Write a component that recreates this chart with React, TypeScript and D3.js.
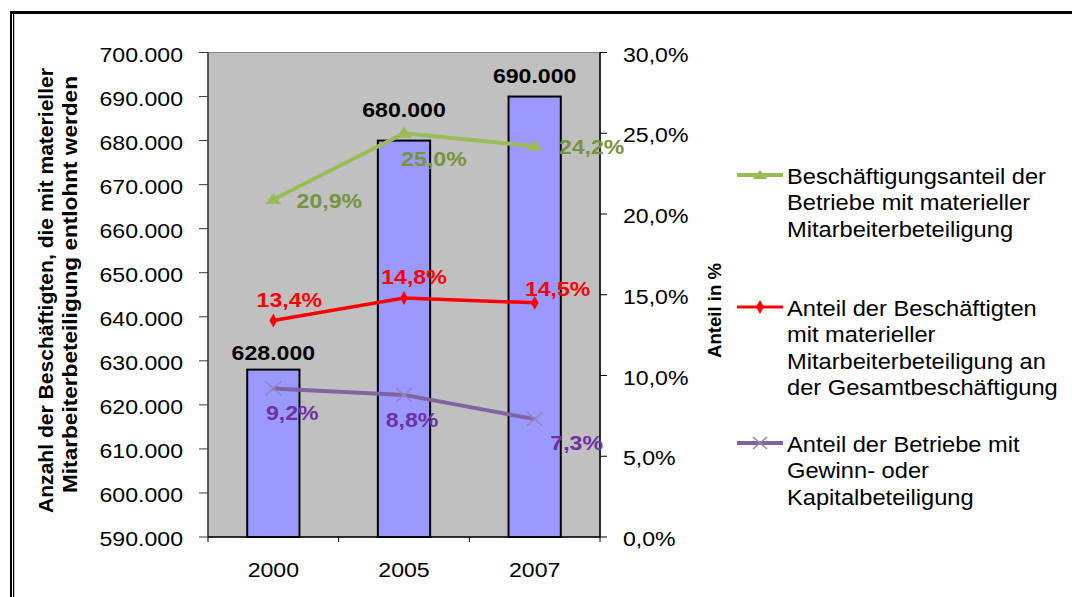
import React from "react";
import * as d3 from "d3";

// ---- data ----
const years = ["2000", "2005", "2007"];
const employees = [628000, 680000, 690000];
const shareEmploymentFirms = [20.9, 25.0, 24.2];
const shareEmployees = [13.4, 14.8, 14.5];
const shareFirmsProfit = [9.2, 8.8, 7.3];
const leftTicks = [590000, 600000, 610000, 620000, 630000, 640000, 650000, 660000, 670000, 680000, 690000, 700000];
const rightTicks = [0, 5, 10, 15, 20, 25, 30];

const legendGreen = ["Beschäftigungsanteil  der", "Betriebe mit materieller", "Mitarbeiterbeteiligung"];
const legendRed = ["Anteil der Beschäftigten", "mit materieller", "Mitarbeiterbeteiligung an", "der Gesamtbeschäftigung"];
const legendPurple = ["Anteil der Betriebe mit", "Gewinn- oder", "Kapitalbeteiligung"];
const leftTitle = ["Anzahl der Beschäftigten, die mit materieller", "Mitarbeiterbeteiligung entlohnt werden"];
const rightTitle = "Anteil in %";

// label placement (offsets from the data point, px)
const barLabelDy = [-10, -24, -14];
const greenLabelOff = [[56, 9], [30, 33], [57, 8]];
const redLabelOff = [[16, -14], [10, -14], [23, -7]];
const purpleLabelOff = [[19, 32], [8, 32], [42, 31]];

const de = d3.formatLocale({ decimal: ",", thousands: ".", grouping: [3], currency: ["", "€"] });
const fmtInt = de.format(",.0f");
const fmtPct = (v: number) => de.format(".1f")(v) + "%";

const FONT = "'Liberation Sans', Arial, Helvetica, sans-serif";
const SX = 1.1;

function Txt(props: { x: number; y: number; anchor?: string; size: number; bold?: boolean; fill?: string; children: any }) {
  const { x, y, anchor = "start", size, bold, fill = "#000", children } = props;
  return (
    <text
      transform={`translate(${x},${y}) scale(${SX},1)`}
      textAnchor={anchor}
      fontSize={size}
      fontWeight={bold ? "bold" : "normal"}
      fill={fill}
      fontFamily={FONT}
    >
      {children}
    </text>
  );
}

export default function App() {
  const W = 1072, H = 597;
  const plot = { left: 208, right: 600, top: 52.5, bottom: 537 };

  const x = d3.scaleBand<string>().domain(years).range([plot.left, plot.right]).paddingInner(0.6).paddingOuter(0.3);
  const xc = (i: number) => (x(years[i]) as number) + x.bandwidth() / 2;
  const xBand = d3.scaleBand<string>().domain(years).range([plot.left, plot.right]);
  const yL = d3.scaleLinear().domain([590000, 700000]).range([plot.bottom, plot.top]);
  const yR = d3.scaleLinear().domain([0, 30]).range([plot.bottom, plot.top]);

  const line = d3.line<number>().x((_, i) => xc(i)).y((d) => yR(d));

  const green = "#9BBB59";
  const greenTxt = "#77933C";
  const red = "#FF0000";
  const purple = "#8064A2";
  const purpleTxt = "#7030A0";
  const purpleMarker = "#9585BF";

  const tri = "M0,-6.5L8,4.5L-8,4.5Z";
  const diamond = d3.symbol().type(d3.symbolDiamond).size(55)() as string;
  const cross = "M-8,-7L8,7M-8,7L8,-7";

  const legendLineX = [737, 783];
  const legendTextX = 787;
  const legendSpacing = 26.5;
  const legend = [
    { lines: legendGreen, y: 175, color: green, sw: 4, marker: "tri" },
    { lines: legendRed, y: 307, color: red, sw: 3, marker: "dia" },
    { lines: legendPurple, y: 443, color: purple, sw: 4, marker: "x" },
  ];

  return (
    <svg width={W} height={H} style={{ position: "absolute", left: 0, top: 0, background: "#fff" }}>
      {/* frame */}
      <rect x={10} y={11} width={W - 10} height={3} fill="#000" />
      <rect x={10} y={11} width={2} height={H - 11} fill="#000" />
      <rect x={13} y={14} width={1.2} height={H - 14} fill="#000" />

      {/* plot area */}
      <rect x={plot.left} y={plot.top} width={plot.right - plot.left} height={plot.bottom - plot.top} fill="#C0C0C0" stroke="#808080" strokeWidth={1} />

      {/* bars */}
      {employees.map((v, i) => (
        <rect key={i} x={x(years[i])} y={yL(v)} width={x.bandwidth()} height={plot.bottom - yL(v)} fill="#9999FF" stroke="#000" strokeWidth={2} />
      ))}

      {/* axes */}
      <line x1={plot.left} x2={plot.left} y1={plot.top} y2={plot.bottom} stroke="#3a3a3a" strokeWidth={1.5} />
      <line x1={plot.right} x2={plot.right} y1={plot.top} y2={plot.bottom} stroke="#000" strokeWidth={1.5} />
      <line x1={plot.left} x2={plot.right} y1={plot.bottom} y2={plot.bottom} stroke="#000" strokeWidth={1.5} />

      {leftTicks.map((t) => (
        <g key={t}>
          <line x1={plot.left - 9} x2={plot.left} y1={yL(t)} y2={yL(t)} stroke="#3a3a3a" strokeWidth={1} />
          <Txt x={183} y={yL(t) + 9} anchor="end" size={21}>{fmtInt(t)}</Txt>
        </g>
      ))}
      {rightTicks.map((t) => (
        <g key={t}>
          <line x1={plot.right} x2={plot.right + 7} y1={yR(t)} y2={yR(t)} stroke="#000" strokeWidth={1} />
          <Txt x={623} y={yR(t) + 9} anchor="start" size={21}>{fmtPct(t)}</Txt>
        </g>
      ))}
      {years.map((yr, i) => (
        <line key={yr} x1={xBand(yr)} x2={xBand(yr)} y1={plot.bottom} y2={plot.bottom + 5} stroke="#000" strokeWidth={1} />
      ))}
      <line x1={plot.right} x2={plot.right} y1={plot.bottom} y2={plot.bottom + 5} stroke="#000" strokeWidth={1} />
      {years.map((yr, i) => (
        <Txt key={yr} x={xc(i)} y={577} anchor="middle" size={21}>{yr}</Txt>
      ))}

      {/* bar labels */}
      {employees.map((v, i) => (
        <Txt key={i} x={xc(i)} y={yL(v) + barLabelDy[i]} anchor="middle" size={21} bold>{fmtInt(v)}</Txt>
      ))}

      {/* lines */}
      <path d={line(shareFirmsProfit) as string} fill="none" stroke={purple} strokeWidth={4} />
      {shareFirmsProfit.map((v, i) => (
        <path key={i} d={cross} transform={`translate(${xc(i)},${yR(v)})`} stroke={purpleMarker} strokeWidth={1.5} fill="none" />
      ))}
      <path d={line(shareEmployees) as string} fill="none" stroke={red} strokeWidth={3.5} />
      {shareEmployees.map((v, i) => (
        <path key={i} d={diamond} transform={`translate(${xc(i)},${yR(v)})`} fill={red} />
      ))}
      <path d={line(shareEmploymentFirms) as string} fill="none" stroke={green} strokeWidth={4} />
      {shareEmploymentFirms.map((v, i) => (
        <path key={i} d={tri} transform={`translate(${xc(i)},${yR(v)})`} fill={green} />
      ))}

      {/* line labels */}
      {shareEmploymentFirms.map((v, i) => (
        <Txt key={i} x={xc(i) + greenLabelOff[i][0]} y={yR(v) + greenLabelOff[i][1]} anchor="middle" size={21} bold fill={greenTxt}>{fmtPct(v)}</Txt>
      ))}
      {shareEmployees.map((v, i) => (
        <Txt key={i} x={xc(i) + redLabelOff[i][0]} y={yR(v) + redLabelOff[i][1]} anchor="middle" size={21} bold fill={red}>{fmtPct(v)}</Txt>
      ))}
      {shareFirmsProfit.map((v, i) => (
        <Txt key={i} x={xc(i) + purpleLabelOff[i][0]} y={yR(v) + purpleLabelOff[i][1]} anchor="middle" size={21} bold fill={purpleTxt}>{fmtPct(v)}</Txt>
      ))}

      {/* axis titles */}
      <text transform="translate(53,290.5) rotate(-90)" textAnchor="middle" fontSize={21} fontWeight="bold" fontFamily={FONT} textLength={445} lengthAdjust="spacingAndGlyphs">{leftTitle[0]}</text>
      <text transform="translate(77,284.5) rotate(-90)" textAnchor="middle" fontSize={21} fontWeight="bold" fontFamily={FONT} textLength={417} lengthAdjust="spacingAndGlyphs">{leftTitle[1]}</text>
      <text transform="translate(721,310.5) rotate(-90)" textAnchor="middle" fontSize={19} fontWeight="bold" fontFamily={FONT} textLength={95} lengthAdjust="spacingAndGlyphs">{rightTitle}</text>

      {/* legend */}
      {legend.map((e, k) => (
        <g key={k}>
          <line x1={legendLineX[0]} x2={legendLineX[1]} y1={e.y} y2={e.y} stroke={e.color} strokeWidth={e.sw} />
          {e.marker === "tri" && <path d="M0,-5L7.5,4L-7.5,4Z" transform={`translate(${(legendLineX[0] + legendLineX[1]) / 2},${e.y})`} fill={green} />}
          {e.marker === "dia" && <path d={diamond} transform={`translate(${(legendLineX[0] + legendLineX[1]) / 2},${e.y})`} fill={red} />}
          {e.marker === "x" && <path d="M-7,-6L7,6M-7,6L7,-6" transform={`translate(${(legendLineX[0] + legendLineX[1]) / 2},${e.y})`} stroke={purpleMarker} strokeWidth={1.5} fill="none" />}
          {e.lines.map((t, j) => (
            <Txt key={j} x={legendTextX} y={e.y + 8.5 + j * legendSpacing} size={21.5}>{t}</Txt>
          ))}
        </g>
      ))}
    </svg>
  );
}
